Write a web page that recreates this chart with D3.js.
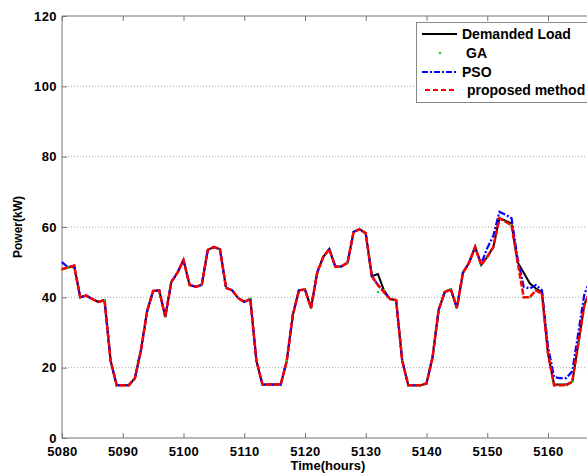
<!DOCTYPE html>
<html>
<head>
<meta charset="utf-8">
<script src="https://cdn.jsdelivr.net/npm/d3@7"></script>
<style>
  body { margin: 0; background: #fff; }
  svg { display: block; overflow: hidden; }
  text { font-family: "Liberation Sans", Arial, sans-serif; font-weight: bold; fill: #000; }
  .tick text { font-size: 13px; letter-spacing: 0.4px; }
</style>
</head>
<body>
<svg width="587" height="475"></svg>
<script>
// hours 5080 .. 5167
var hourStart = 5080;

var demandLoad = [48, 48.5, 49, 40, 40.5, 39.5, 38.7, 39.2, 22, 15,
  15, 15, 17, 25, 36, 41.8, 42, 34.5, 44.4, 47,
  50.6, 43.5, 43, 43.5, 53.5, 54.3, 53.7, 42.7, 42, 39.8,
  38.7, 39.5, 22, 15.2, 15.2, 15.2, 15.2, 22, 35, 42,
  42.2, 37, 47, 51.5, 53.7, 48.7, 48.8, 49.8, 58.6, 59.4,
  58.2, 46, 46.6, 42, 39.5, 39.2, 22, 15, 15, 15,
  15.5, 23, 36.4, 41.5, 42.3, 37, 47, 49.8, 54.3, 49.2,
  51.5, 54.3, 62.5, 61.8, 61, 50, 47, 44, 42.5, 41.5,
  24, 15.2, 15.2, 15.2, 16, 27, 38, 42];

var gaValues = [48, 48.5, 49, 40, 40.5, 39.5, 38.7, 39.2, 22, 15,
  15, 15, 17, 25, 36, 41.8, 42, 34.5, 44.4, 47,
  50.6, 43.5, 43, 43.5, 53.5, 54.3, 53.7, 42.7, 42, 39.8,
  38.7, 39.5, 22, 15.2, 15.2, 15.2, 15.2, 22, 35, 42,
  42.2, 37, 47, 51.5, 53.7, 48.7, 48.8, 49.8, 58.6, 59.4,
  58.2, 46, 41.5, 42, 39.5, 39.2, 22, 15, 15, 15,
  15.5, 23, 36.4, 41.5, 42.3, 37, 47, 49.8, 54.3, 49.2,
  51.5, 54.3, 62.5, 61.5, 60.5, 50, 40, 40, 42, 41,
  24, 15, 15, 15, 16, 27, 38, 42];

var psoValues = [50, 48.5, 49, 40, 40.5, 39.5, 38.7, 39.2, 22, 15,
  15, 15, 17, 25, 36, 41.8, 42, 34.5, 44.4, 47,
  50.6, 43.5, 43, 43.5, 53.5, 54.3, 53.7, 42.7, 42, 39.8,
  38.7, 39.5, 22, 15.2, 15.2, 15.2, 15.2, 22, 35, 42,
  42.2, 37, 47, 51.5, 53.7, 48.7, 48.8, 49.8, 58.6, 59.4,
  58.2, 46, 43.5, 41.5, 39.5, 39.2, 22, 15, 15, 15,
  15.5, 23, 36.4, 41.5, 42.3, 37, 47, 49.8, 54.3, 49.5,
  54, 57.5, 64.3, 63.5, 62.5, 51, 43, 42.5, 43.5, 42,
  26, 17.3, 17, 17, 19, 30, 41, 45];

var proposedValues = [48, 48.5, 49, 40, 40.5, 39.5, 38.7, 39.2, 22, 15,
  15, 15, 17, 25, 36, 41.8, 42, 34.5, 44.4, 47,
  50.6, 43.5, 43, 43.5, 53.5, 54.3, 53.7, 42.7, 42, 39.8,
  38.7, 39.5, 22, 15.2, 15.2, 15.2, 15.2, 22, 35, 42,
  42.2, 37, 47, 51.5, 53.7, 48.7, 48.8, 49.8, 58.6, 59.4,
  58.2, 46, 43.5, 41.5, 39.5, 39.2, 22, 15, 15, 15,
  15.5, 23, 36.4, 41.5, 42.3, 37, 47, 49.8, 54.3, 49.2,
  51.5, 54.3, 62.5, 61.5, 60.5, 50, 40, 40, 42, 41,
  24, 15, 15, 15, 16, 27, 38, 42];

var xTicks = [5080, 5090, 5100, 5110, 5120, 5130, 5140, 5150, 5160];
var yTicks = [0, 20, 40, 60, 80, 100, 120];
var gridValues = [20, 40, 60, 80, 100];
var legendLabels = ["Demanded Load", "GA", "PSO", "proposed method"];

var svg = d3.select("svg"),
    plotLeft = 62, plotTop = 16, plotBottom = 438;

var x = d3.scaleLinear().domain([5080, 5170]).range([plotLeft, plotLeft + 90 * 6.075]);
var y = d3.scaleLinear().domain([0, 120]).range([plotBottom, plotTop]);

function toPoints(arr) {
  return arr.map(function (v, i) { return {t: hourStart + i, v: v}; });
}

// dotted grid
svg.append("g").selectAll("line")
    .data(gridValues)
    .enter().append("line")
    .attr("x1", plotLeft).attr("x2", x(5170))
    .attr("y1", function (d) { return y(d); })
    .attr("y2", function (d) { return y(d); })
    .attr("stroke", "#aaa")
    .attr("stroke-width", 1)
    .attr("stroke-dasharray", "1,2");

// axes, ticks pointing inwards
var xAxis = svg.append("g")
    .attr("transform", "translate(0," + plotBottom + ")")
    .call(d3.axisBottom(x).tickValues(xTicks).tickSize(-5).tickPadding(9).tickFormat(d3.format("d")));

var xTop = svg.append("g")
    .attr("transform", "translate(0," + plotTop + ")")
    .call(d3.axisTop(x).tickValues(xTicks).tickSize(-5).tickFormat(""));

var yAxis = svg.append("g")
    .attr("transform", "translate(" + plotLeft + ",0)")
    .call(d3.axisLeft(y).tickValues(yTicks).tickSize(-5).tickPadding(5));

[xAxis, xTop, yAxis].forEach(function (g) {
  g.select(".domain").remove();
  g.selectAll(".tick line").attr("stroke", "#777");
  g.selectAll(".tick text").attr("font-family", null).attr("font-size", null);
});

// frame (right side is off the picture)
svg.append("path")
    .attr("d", "M" + x(5170) + "," + plotTop + "H" + plotLeft + "V" + plotBottom + "H" + x(5170))
    .attr("fill", "none")
    .attr("stroke", "#777")
    .attr("stroke-width", 1);

var line = d3.line()
    .x(function (d) { return x(d.t); })
    .y(function (d) { return y(d.v); });

svg.append("path")
    .datum(toPoints(demandLoad))
    .attr("d", line)
    .attr("fill", "none")
    .attr("stroke", "#000")
    .attr("stroke-width", 2);

svg.append("g").selectAll("circle")
    .data(toPoints(gaValues))
    .enter().append("circle")
    .attr("cx", function (d) { return x(d.t); })
    .attr("cy", function (d) { return y(d.v); })
    .attr("r", 1.2)
    .attr("fill", "#1fd11f");

svg.append("path")
    .datum(toPoints(psoValues))
    .attr("d", line)
    .attr("fill", "none")
    .attr("stroke", "#0000ff")
    .attr("stroke-width", 2.2)
    .attr("stroke-dasharray", "7,2,2,2");

svg.append("path")
    .datum(toPoints(proposedValues))
    .attr("d", line)
    .attr("fill", "none")
    .attr("stroke", "#ff0000")
    .attr("stroke-width", 2.5)
    .attr("stroke-dasharray", "6,2");

// axis titles
svg.append("text")
    .attr("x", 328).attr("y", 470)
    .attr("text-anchor", "middle")
    .attr("font-size", 13)
    .text("Time(hours)");

svg.append("text")
    .attr("transform", "translate(22,227) rotate(-90)")
    .attr("text-anchor", "middle")
    .attr("font-size", 12)
    .text("Power(kW)");

// legend
var legend = svg.append("g");
legend.append("rect")
    .attr("x", 416.5).attr("y", 22.5)
    .attr("width", 200).attr("height", 80)
    .attr("fill", "#fff")
    .attr("stroke", "#888");

var rowY = [34, 53, 72, 90],
    textX = [462, 466, 462, 467];

legend.append("line")
    .attr("x1", 422).attr("x2", 457).attr("y1", rowY[0]).attr("y2", rowY[0])
    .attr("stroke", "#000").attr("stroke-width", 2);
legend.append("circle")
    .attr("cx", 440).attr("cy", rowY[1]).attr("r", 1.3).attr("fill", "#1fd11f");
legend.append("line")
    .attr("x1", 422).attr("x2", 457).attr("y1", rowY[2]).attr("y2", rowY[2])
    .attr("stroke", "#0000ff").attr("stroke-width", 2).attr("stroke-dasharray", "6,2,2,2");
legend.append("line")
    .attr("x1", 425).attr("x2", 457).attr("y1", rowY[3]).attr("y2", rowY[3])
    .attr("stroke", "#ff0000").attr("stroke-width", 2).attr("stroke-dasharray", "5,3");

legend.selectAll("text")
    .data(legendLabels)
    .enter().append("text")
    .attr("x", function (d, i) { return textX[i]; })
    .attr("y", function (d, i) { return rowY[i] + 5; })
    .attr("font-size", 14)
    .text(function (d) { return d; });
</script>
</body>
</html>
